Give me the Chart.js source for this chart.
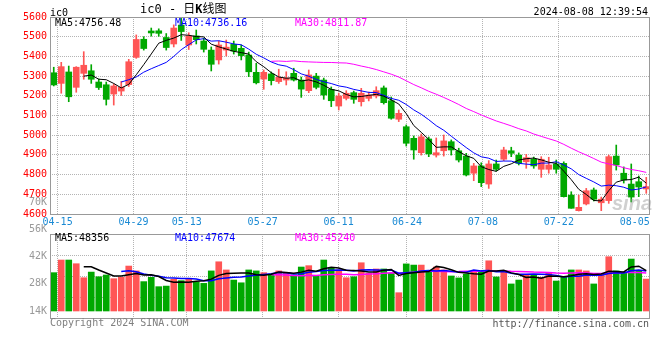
<!DOCTYPE html>
<html>
<head>
<meta charset="utf-8">
<script src="https://cdn.jsdelivr.net/npm/chart.js@4.4.1/dist/chart.umd.min.js"></script>
<style>
  html, body { margin: 0; padding: 0; background: #fff; }
  #wrap { position: relative; width: 660px; height: 360px; overflow: hidden; font-family: 'DejaVu Sans Mono', monospace; font-size: 10px; }
  canvas { position: absolute; left: 0; top: 0; }
  .t { position: absolute; white-space: nowrap; line-height: 12px; }
</style>
</head>
<body>
<div id="wrap">
  <canvas id="volChart" width="660" height="360"></canvas>
  <canvas id="kChart" width="660" height="360"></canvas>

  <div class="t" style="left:50px;top:7px;">ic0</div>
  <div class="t" style="left:140px;top:2px;font-size:12px;line-height:14px;font-family:'DejaVu Sans Mono','Noto Sans CJK SC',monospace;">ic0 - 日<b>K</b>线图</div>
  <div class="t" style="right:12px;top:6px;">2024-08-08 12:39:54</div>

  <div class="t" style="left:55px;top:17px;color:#000;">MA5:4756.48</div>
  <div class="t" style="left:175px;top:17px;color:#0000ff;">MA10:4736.16</div>
  <div class="t" style="left:295px;top:17px;color:#ff00ff;">MA30:4811.87</div>

  <div class="t" style="left:55px;top:232px;color:#000;">MA5:48356</div>
  <div class="t" style="left:175px;top:232px;color:#0000ff;">MA10:47674</div>
  <div class="t" style="left:295px;top:232px;color:#ff00ff;">MA30:45240</div>

  <div class="t" style="left:612px;top:192px;font:italic bold 20px 'Liberation Sans',sans-serif;color:rgba(150,150,150,0.45);">sina</div>

  <div class="t" style="left:50px;top:317px;color:#808080;">Copyright 2024 SINA.COM</div>
  <div class="t" style="right:11px;top:318px;color:#555;">http://finance.sina.com.cn</div>
</div>

<script>
// daily candles, 80 sessions
const opens = [5317,5263,5321,5243,5314,5327,5270,5256,5209,5224,
  5257,5395,5487,5529,5530,5496,5463,5559,5458,5504,
  5478,5432,5382,5432,5461,5441,5407,5319,5285,5311,
  5272,5280,5314,5280,5226,5300,5280,5233,5148,5187,
  5216,5170,5187,5199,5240,5175,5081,5043,4984,4911,
  4981,4899,4921,4967,4921,4894,4807,4844,4752,4854,
  4878,4921,4899,4865,4878,4827,4827,4854,4857,4696,
  4617,4651,4722,4657,4668,4894,4807,4752,4764,4727];
const highs = [5345,5370,5351,5348,5424,5358,5285,5270,5260,5273,
  5385,5509,5500,5544,5540,5516,5560,5593,5520,5534,
  5493,5448,5478,5483,5478,5458,5422,5365,5331,5321,
  5335,5322,5340,5295,5331,5314,5290,5245,5214,5226,
  5224,5238,5219,5246,5250,5194,5128,5052,4996,5006,
  4991,4986,5001,4976,4934,4908,4857,4860,4871,4874,
  4939,4939,4910,4903,4889,4891,4888,4874,4865,4713,
  4696,4730,4732,4686,4899,4950,4839,4854,4793,4786];
const lows = [5250,5213,5170,5218,5284,5263,5232,5153,5153,5202,
  5247,5390,5432,5503,5502,5432,5448,5481,5435,5463,
  5422,5326,5361,5402,5412,5382,5297,5260,5233,5255,
  5263,5255,5275,5192,5216,5235,5182,5145,5128,5179,
  5162,5148,5174,5189,5158,5081,5069,4945,4878,4899,
  4891,4889,4894,4899,4864,4793,4769,4739,4730,4818,
  4871,4891,4849,4832,4832,4786,4807,4807,4686,4629,
  4615,4646,4666,4617,4654,4823,4757,4661,4688,4705];
const closes = [5255,5348,5195,5345,5355,5284,5242,5182,5250,5243,
  5373,5486,5440,5519,5517,5445,5544,5526,5504,5485,
  5436,5360,5458,5447,5427,5404,5322,5266,5319,5277,
  5294,5290,5280,5234,5306,5243,5204,5175,5199,5213,
  5182,5213,5204,5226,5165,5086,5111,4959,4925,4992,
  4905,4911,4971,4925,4874,4798,4844,4759,4854,4827,
  4925,4908,4857,4886,4844,4878,4849,4827,4688,4629,
  4634,4718,4675,4675,4891,4849,4773,4686,4737,4739];
// volume, in K
const volumes = [33.7,40.2,40.2,38.3,31.1,34.0,31.6,32.5,30.6,31.3,
  37.1,34.6,29.1,31.3,26.5,26.8,30.3,29.6,30.6,28.9,
  28.2,34.6,39.3,35.1,29.9,28.5,35.1,34.6,33.7,32.5,
  34.6,33.7,32.5,36.6,37.3,32.0,40.2,36.1,35.1,31.1,
  31.6,38.8,33.4,35.6,35.6,33.4,23.4,38.2,37.6,37.6,
  34.6,36.6,35.1,32.0,31.0,32.9,34.6,34.2,39.8,31.5,
  34.6,27.9,29.9,32.5,32.5,31.3,33.7,29.4,31.3,35.1,
  35.1,34.6,27.9,32.5,41.9,34.6,33.4,40.7,34.6,30.4];

// date axis ticks (position on the 0..79 date axis)
const tickIdx = [1, 11, 18, 28, 38, 47, 57, 67, 77];
const tickText = ['04-15', '04-29', '05-13', '05-27', '06-11', '06-24', '07-08', '07-22', '08-05'];
const volTickVals = [70, 56, 42, 28, 14];
const volTickText = ['70K', '56K', '42K', '28K', '14K'];

const MONO = "'DejaVu Sans Mono', monospace";
const RED = '#ff5555', GREEN = '#00a800';
const GRID = '#b4b4b4';

const candleColor = closes.map((c, i) => c >= opens[i] ? RED : GREEN);

function movingAvg(src, n) {
  return src.map((_, i) => {
    if (i < n - 1) return null;
    let s = 0;
    for (let k = i - n + 1; k <= i; k++) s += src[k];
    return s / n;
  });
}

function maLine(data, color, width) {
  return { type: 'line', data, borderColor: color, borderWidth: width, pointRadius: 0, tension: 0, order: 0 };
}

function dateAxis(showLabels) {
  return {
    type: 'linear', axis: 'x', position: 'bottom', min: 0, max: 79, offset: false,
    afterBuildTicks: axis => { axis.ticks = tickIdx.map(v => ({ value: v })); },
    afterFit: s => { s.height = showLabels ? 18 : 0; },
    grid: {
      offset: false,
      drawTicks: false,
      color: ctx => ctx.index === tickIdx.length - 1 ? 'rgba(0,0,0,0)' : GRID
    },
    border: { display: false, dash: [1, 1] },
    ticks: {
      display: showLabels, autoSkip: false, maxRotation: 0, padding: 2,
      color: '#1a8ad4', font: { family: MONO, size: 10 },
      callback: (v, i) => tickText[i]
    }
  };
}

// grey frame round each panel
const frame = {
  id: 'frame',
  afterDraw(chart) {
    const { left, top, right, bottom } = chart.chartArea;
    const ctx = chart.ctx;
    ctx.save();
    ctx.strokeStyle = '#999';
    ctx.lineWidth = 1;
    ctx.strokeRect(left + 0.5, top + 0.5, right - left - 1, bottom - top);
    ctx.restore();
  }
};

const volLabels = {
  id: 'volLabels',
  afterDraw(chart) {
    const y = chart.scales.y;
    const ctx = chart.ctx;
    ctx.save();
    ctx.font = '10px ' + MONO;
    ctx.fillStyle = '#999';
    ctx.textAlign = 'right';
    ctx.textBaseline = 'middle';
    volTickVals.forEach((v, i) => ctx.fillText(volTickText[i], 47, y.getPixelForValue(v)));
    ctx.restore();
  }
};

// Price panel
new Chart(document.getElementById('kChart'), {
  type: 'bar',
  data: {
    labels: closes.map((_, i) => i),
    datasets: [
      maLine(movingAvg(closes, 5), '#000000', 1),
      maLine(movingAvg(closes, 10), '#0000ff', 1),
      maLine(movingAvg(closes, 30), '#ff00ff', 1),
      { data: opens.map((o, i) => [o, closes[i]]), backgroundColor: candleColor,
        barThickness: 6, grouped: false, minBarLength: 1, order: 1 },
      { data: lows.map((l, i) => [l, highs[i]]), backgroundColor: candleColor,
        barThickness: 1, grouped: false, order: 2 }
    ]
  },
  options: {
    responsive: false, animation: false, events: [],
    layout: { padding: { top: 17, right: 10, bottom: 128, left: 0 } },
    plugins: { legend: { display: false }, tooltip: { enabled: false } },
    scales: {
      x: { display: false, offset: true },
      xd: dateAxis(true),
      y: {
        min: 4600, max: 5600, position: 'left',
        afterFit: s => { s.width = 50; },
        ticks: { stepSize: 100, color: '#ff0000', padding: 3, font: { family: MONO, size: 10 },
                 callback: v => String(v) },
        grid: { color: GRID, drawTicks: false },
        border: { display: false, dash: [1, 1] }
      }
    }
  },
  plugins: [frame]
});

// Volume panel
new Chart(document.getElementById('volChart'), {
  type: 'bar',
  data: {
    labels: volumes.map((_, i) => i),
    datasets: [
      maLine(movingAvg(volumes, 5), '#000000', 1.5),
      maLine(movingAvg(volumes, 10), '#0000ff', 1.5),
      maLine(movingAvg(volumes, 30), '#ff00ff', 1.5),
      { data: volumes.map(v => [14, v]), backgroundColor: candleColor,
        barThickness: 6, grouped: false, order: 1 }
    ]
  },
  options: {
    responsive: false, animation: false, events: [],
    layout: { padding: { top: 234, right: 10, bottom: 42, left: 0 } },
    plugins: { legend: { display: false }, tooltip: { enabled: false } },
    scales: {
      x: { display: false, offset: true },
      xd: dateAxis(false),
      y: {
        min: 10.4, max: 53.57, position: 'left',
        afterFit: s => { s.width = 50; },
        afterBuildTicks: axis => {
          axis.ticks = [1, 2, 3].map(k => ({ value: axis.min + (axis.max - axis.min) * k / 4 }));
        },
        ticks: { display: false },
        grid: { color: GRID, drawTicks: false },
        border: { display: false, dash: [1, 1] }
      }
    }
  },
  plugins: [frame, volLabels]
});
</script>
</body>
</html>
